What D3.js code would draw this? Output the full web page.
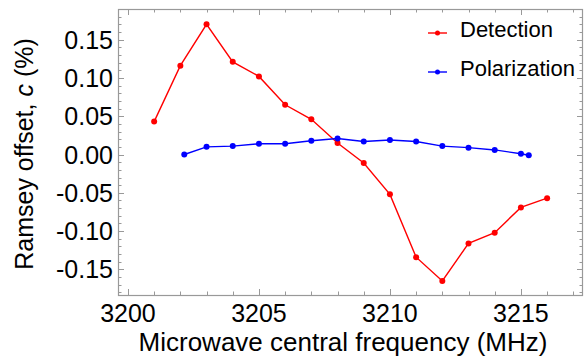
<!DOCTYPE html>
<html>
<head>
<meta charset="utf-8">
<script src="https://cdn.jsdelivr.net/npm/d3@7"></script>
<style>
  html, body { margin: 0; padding: 0; background: #fff; }
  svg { display: block; font-family: Arial, 'Liberation Sans', sans-serif; }
</style>
</head>
<body>
<svg class="ramsey-graph"></svg>
<script>
// Microwave central frequency (MHz) for each series.
const detectionFreq = [3201, 3202, 3203, 3204, 3205, 3206, 3207, 3208,
  3209, 3210, 3211, 3212, 3213, 3214, 3215, 3216];
const detectionOffset = [0.043, 0.116, 0.170, 0.121, 0.102, 0.065, 0.046, 0.015,
  -0.011, -0.052, -0.134, -0.165, -0.116, -0.102, -0.069, -0.057];

const polarizationFreq = [3202.15, 3203, 3204, 3205, 3206, 3207, 3208, 3209,
  3210, 3211, 3212, 3213, 3214, 3215, 3215.3];
const polarizationOffset = [0.000, 0.010, 0.011, 0.014, 0.014, 0.018, 0.021, 0.017,
  0.019, 0.017, 0.011, 0.009, 0.006, 0.001, -0.001];

const xTicks = [3200, 3205, 3210, 3215];
const yTicks = [-0.15, -0.10, -0.05, 0.00, 0.05, 0.10, 0.15];

const seriesNames = ['Detection', 'Polarization'];
const seriesColors = ['#ff0000', '#0000ff'];

const width = 584;
const height = 358;
const margin = { top: 9, right: 1, bottom: 63, left: 118 };

const svg = d3.select('.ramsey-graph')
  .attr('width', width)
  .attr('height', height)
  .attr('viewBox', `0 0 ${width} ${height}`);

const xScale = d3.scaleLinear()
  .domain([3199.62, 3217.37])
  .range([margin.left, width - margin.right]);

const yScale = d3.scaleLinear()
  .domain([-0.1834, 0.190])
  .range([height - margin.bottom, margin.top]);

const frameColor = '#999';

// Minor ticks: every 1 MHz and every 0.01 on y.
const xMinor = d3.range(3200, 3218, 1);
const yMinor = d3.range(-18, 20, 1).map((d) => d / 100);

const plotTop = margin.top;
const plotBottom = height - margin.bottom;
const plotLeft = margin.left;
const plotRight = width - margin.right;

// Ticks point inwards on all four sides.
const ticks = svg.append('g')
  .attr('stroke', frameColor)
  .attr('stroke-width', 1);

const isMajorX = (d) => xTicks.includes(d);
const isMajorY = (d) => yTicks.some((t) => Math.abs(t - d) < 1e-9);

xMinor.forEach((d) => {
  const len = isMajorX(d) ? 6 : 3.5;
  const x = Math.round(xScale(d)) + 0.5;
  ticks.append('line').attr('x1', x).attr('x2', x)
    .attr('y1', plotBottom).attr('y2', plotBottom - len);
  ticks.append('line').attr('x1', x).attr('x2', x)
    .attr('y1', plotTop).attr('y2', plotTop + len);
});

yMinor.forEach((d) => {
  if (yScale(d) < plotTop || yScale(d) > plotBottom) return;
  const len = isMajorY(d) ? 6 : 3.5;
  const y = Math.round(yScale(d)) + 0.5;
  ticks.append('line').attr('y1', y).attr('y2', y)
    .attr('x1', plotLeft).attr('x2', plotLeft + len);
  ticks.append('line').attr('y1', y).attr('y2', y)
    .attr('x1', plotRight).attr('x2', plotRight - len);
});

// Plot frame.
svg.append('rect')
  .attr('x', plotLeft + 0.5)
  .attr('y', plotTop + 0.5)
  .attr('width', plotRight - plotLeft - 1)
  .attr('height', plotBottom - plotTop)
  .attr('fill', 'none')
  .attr('stroke', frameColor)
  .attr('stroke-width', 1.2);

// Tick labels.
svg.append('g')
  .selectAll('text')
  .data(xTicks)
  .join('text')
  .attr('x', (d) => xScale(d))
  .attr('y', 322)
  .attr('text-anchor', 'middle')
  .attr('font-size', 25)
  .attr('fill', '#000')
  .text((d) => d);

svg.append('g')
  .selectAll('text')
  .data(yTicks)
  .join('text')
  .attr('x', 113)
  .attr('y', (d) => yScale(d) + 9)
  .attr('text-anchor', 'end')
  .attr('font-size', 25)
  .attr('fill', '#000')
  .text((d) => d3.format('.2f')(d).replace('−', '-'));

// Axis labels.
svg.append('text')
  .attr('x', 343)
  .attr('y', 351)
  .attr('text-anchor', 'middle')
  .attr('font-size', 26)
  .text('Microwave central frequency (MHz)');

const yLabel = svg.append('text')
  .attr('transform', `translate(33, 154) rotate(-90)`)
  .attr('text-anchor', 'middle')
  .attr('font-size', 25);
yLabel.append('tspan').text('Ramsey offset, ');
yLabel.append('tspan').attr('font-style', 'italic').text('c');
yLabel.append('tspan').text(' (%)');

// Series lines and points.
const series = [
  { freq: detectionFreq, offset: detectionOffset },
  { freq: polarizationFreq, offset: polarizationOffset },
];

const lineGenerator = d3.line()
  .x((d) => xScale(d[0]))
  .y((d) => yScale(d[1]));

series.forEach((s, i) => {
  const points = s.freq.map((f, j) => [f, s.offset[j]]);
  svg.append('path')
    .datum(points)
    .attr('d', lineGenerator)
    .attr('fill', 'none')
    .attr('stroke', seriesColors[i])
    .attr('stroke-width', 1.4);
  svg.append('g')
    .selectAll('circle')
    .data(points)
    .join('circle')
    .attr('cx', (d) => xScale(d[0]))
    .attr('cy', (d) => yScale(d[1]))
    .attr('r', 3)
    .attr('fill', seriesColors[i]);
});

// Legend.
const legend = svg.append('g');
seriesNames.forEach((name, i) => {
  const y = 33 + i * 39;
  legend.append('line')
    .attr('x1', 428).attr('x2', 447)
    .attr('y1', y).attr('y2', y)
    .attr('stroke', seriesColors[i])
    .attr('stroke-width', 1.4);
  legend.append('circle')
    .attr('cx', 437.5).attr('cy', y)
    .attr('r', 2.5)
    .attr('fill', seriesColors[i]);
  legend.append('text')
    .attr('x', 460)
    .attr('y', y + 4)
    .attr('font-size', 22)
    .text(name);
});
</script>
</body>
</html>
